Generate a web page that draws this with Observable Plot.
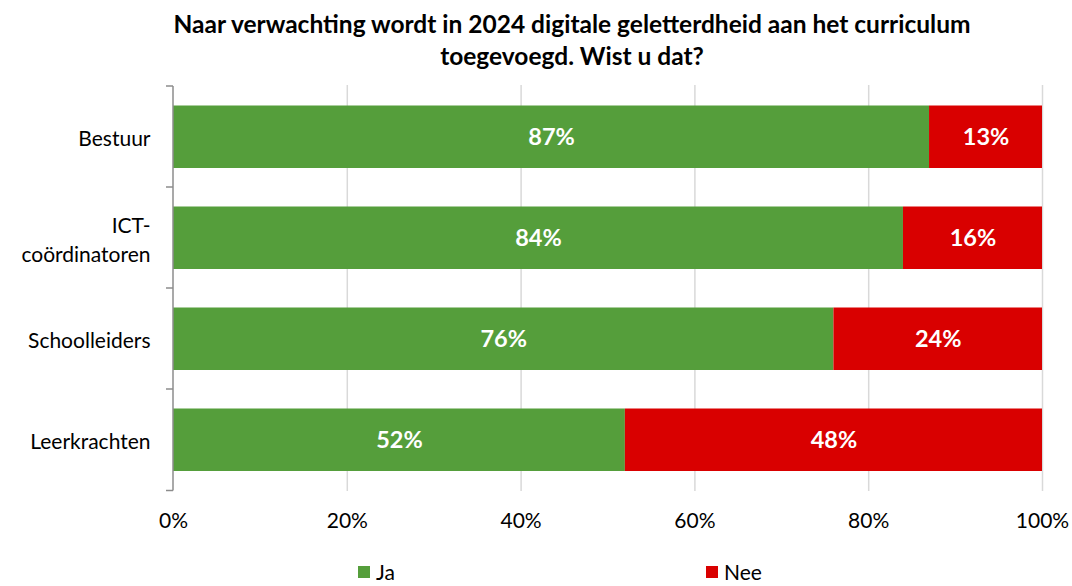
<!DOCTYPE html>
<html>
<head>
<meta charset="utf-8">
<script src="https://cdn.jsdelivr.net/npm/d3@7"></script>
<script src="https://cdn.jsdelivr.net/npm/@observablehq/plot@0.6"></script>
<style>
  body { margin: 0; background: #fff; font-family: Lato, "Open Sans", sans-serif; }
  #wrap { width: 1072px; height: 586px; position: relative; overflow: hidden; }
  #title { position: absolute; top: 8px; left: 72px; width: 1000px; text-align: center; font-weight: bold; font-size: 24.5px; line-height: 32px; color: #000; }
  #chart { position: absolute; top: 80px; left: 0; }
  #legend { position: absolute; top: 561px; left: 0; width: 1072px; font-size: 21px; line-height: 22px; color: #000; }
  .li { position: absolute; display: flex; align-items: center; }
  .sw { width: 12px; height: 12px; margin-right: 6px; }
</style>
</head>
<body>
<div id="wrap">
  <div id="title">Naar verwachting wordt in 2024 digitale geletterdheid aan het curriculum<br>toegevoegd. Wist u dat?</div>
  <div id="chart"></div>
  <div id="legend"></div>
</div>
<script>
const categories = ["Bestuur", "ICT-\ncoördinatoren", "Schoolleiders", "Leerkrachten"];
const series = ["Ja", "Nee"];
const ja = [87, 84, 76, 52];
const nee = [13, 16, 24, 48];
const colors = ["#559E3B", "#D90000"];
const xTicks = [0, 20, 40, 60, 80, 100];

const data = [];
categories.forEach((c, i) => {
  data.push({cat: c, serie: "Ja", value: ja[i]});
  data.push({cat: c, serie: "Nee", value: nee[i]});
});

const H = 465, mT = 5, mB = 54;
const boundaryTicks = (index, scales, values, dims) => {
  const g = d3.create("svg:g");
  const y = scales.y;
  const step = (dims.height - dims.marginTop - dims.marginBottom) / categories.length;
  const x0 = scales.x(0);
  const ys = categories.map(c => y(c)).concat([y(categories[categories.length - 1]) + step]);
  ys.forEach(v => {
    g.append("line").attr("x1", x0 - 7).attr("x2", x0).attr("y1", v).attr("y2", v)
      .attr("stroke", "#8c8c8c").attr("stroke-width", 1.5);
  });
  g.append("line").attr("x1", x0).attr("x2", x0).attr("y1", ys[0]).attr("y2", ys[ys.length - 1])
    .attr("stroke", "#8c8c8c").attr("stroke-width", 1.5);
  return g.node();
};

const chart = Plot.plot({
  width: 1072,
  height: H,
  marginTop: mT,
  marginBottom: mB,
  marginLeft: 173,
  marginRight: 30,
  style: { fontFamily: "Lato, 'Open Sans', sans-serif", fontSize: "21px", color: "#000", background: "#fff" },
  x: { domain: [0, 100], ticks: xTicks, tickFormat: d => d + "%", label: null },
  y: { domain: categories, padding: 0, label: null },
  color: { domain: series, range: colors },
  marks: [
    Plot.ruleX(xTicks.filter(d => d > 0), { stroke: "#d9d9d9", strokeWidth: 1.5 }),
    Plot.barX(data, Plot.stackX({ y: "cat", x: "value", fill: "serie", z: "serie", order: series, insetTop: 19.5, insetBottom: 19 })),
    Plot.text(data, Plot.stackX({ y: "cat", x: "value", z: "serie", order: series, text: d => d.value + "%", fill: "#fff", fontWeight: "bold", fontSize: 23.5 })),
    Plot.axisX({ ticks: xTicks, tickFormat: d => d + "%", tickSize: 0, tickPadding: 22, fontSize: 21, label: null }),
    Plot.axisY({ tickSize: 0, tickPadding: 23, fontSize: 21, label: null, lineHeight: 1.38, textAnchor: "end" }),
    boundaryTicks
  ]
});
document.getElementById("chart").appendChild(chart);

const legend = document.getElementById("legend");
const lx = [358, 706];
series.forEach((s, i) => {
  const el = document.createElement("div");
  el.className = "li";
  el.style.left = lx[i] + "px";
  el.innerHTML = `<div class="sw" style="background:${colors[i]}"></div><span>${s}</span>`;
  legend.appendChild(el);
});
</script>
</body>
</html>
